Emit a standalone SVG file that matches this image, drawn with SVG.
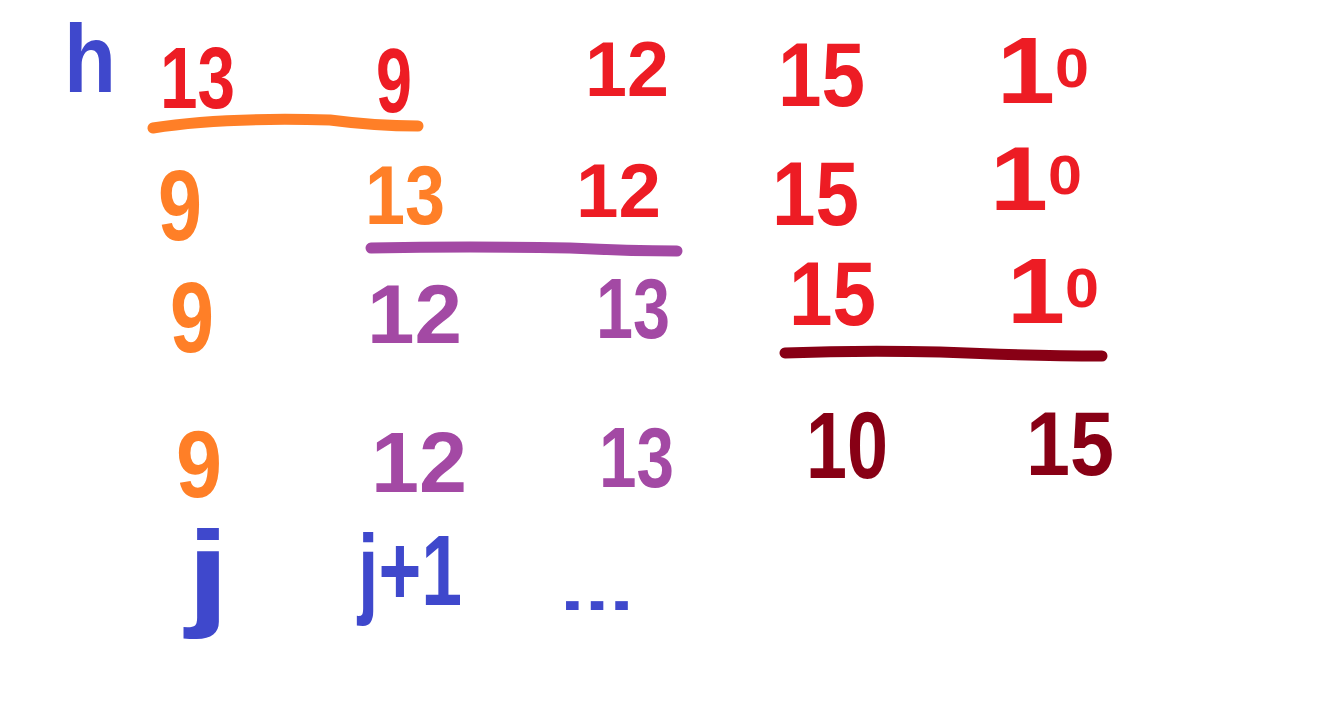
<svg xmlns="http://www.w3.org/2000/svg" width="1341" height="701" viewBox="0 0 1341 701">
<style>
text{font-family:"Liberation Sans","DejaVu Sans",sans-serif;font-weight:bold}
.red{fill:#ED1C24}.org{fill:#FF7F27}.pur{fill:#A349A4}.dr{fill:#880015}.blu{fill:#3F48CC}
.ln{fill:none;stroke-width:11;stroke-linecap:round;stroke-linejoin:round}
</style>
<rect width="1341" height="701" fill="#fff"/>
<text class="blu" x="64" y="92" font-size="96" textLength="52" lengthAdjust="spacingAndGlyphs">h</text>
<!-- row 1 -->
<text class="red" x="160" y="108" font-size="88" textLength="75" lengthAdjust="spacingAndGlyphs">13</text>
<text class="red" x="376" y="112" font-size="90" textLength="36" lengthAdjust="spacingAndGlyphs">9</text>
<text class="red" x="585" y="96" font-size="78" textLength="84" lengthAdjust="spacingAndGlyphs">12</text>
<text class="red" x="778" y="106" font-size="90" textLength="87" lengthAdjust="spacingAndGlyphs">15</text>
<text class="red" x="997" y="103" font-size="94"><tspan textLength="58" lengthAdjust="spacingAndGlyphs">1</tspan><tspan font-size="56" dy="-16" textLength="34" lengthAdjust="spacingAndGlyphs">0</tspan></text>
<path class="ln" d="M153 128 Q220 117 330 120 Q375 126 418 126" stroke="#FF7F27"/>
<!-- row 2 -->
<text class="org" x="158" y="240" font-size="100" textLength="44" lengthAdjust="spacingAndGlyphs">9</text>
<text class="org" x="365" y="224" font-size="84" textLength="80" lengthAdjust="spacingAndGlyphs">13</text>
<text class="red" x="576" y="217" font-size="76" textLength="85" lengthAdjust="spacingAndGlyphs">12</text>
<text class="red" x="772" y="225" font-size="90" textLength="87" lengthAdjust="spacingAndGlyphs">15</text>
<text class="red" x="990" y="210" font-size="90"><tspan textLength="58" lengthAdjust="spacingAndGlyphs">1</tspan><tspan font-size="56" dy="-16" textLength="34" lengthAdjust="spacingAndGlyphs">0</tspan></text>
<path class="ln" d="M371 248 Q470 246 570 248 Q630 251 677 251" stroke="#A349A4"/>
<!-- row 3 -->
<text class="org" x="170" y="352" font-size="100" textLength="44" lengthAdjust="spacingAndGlyphs">9</text>
<text class="pur" x="367" y="343" font-size="84" textLength="95" lengthAdjust="spacingAndGlyphs">12</text>
<text class="pur" x="596" y="338" font-size="86" textLength="74" lengthAdjust="spacingAndGlyphs">13</text>
<text class="red" x="789" y="325" font-size="90" textLength="87" lengthAdjust="spacingAndGlyphs">15</text>
<text class="red" x="1007" y="323" font-size="92"><tspan textLength="58" lengthAdjust="spacingAndGlyphs">1</tspan><tspan font-size="56" dy="-16" textLength="34" lengthAdjust="spacingAndGlyphs">0</tspan></text>
<path class="ln" d="M785 353 Q860 350 940 352 Q1030 356 1102 356" stroke="#880015"/>
<!-- row 4 -->
<text class="org" x="176" y="497" font-size="94" textLength="46" lengthAdjust="spacingAndGlyphs">9</text>
<text class="pur" x="371" y="492" font-size="86" textLength="96" lengthAdjust="spacingAndGlyphs">12</text>
<text class="pur" x="599" y="487" font-size="86" textLength="75" lengthAdjust="spacingAndGlyphs">13</text>
<text class="dr" x="806" y="478" font-size="94" textLength="82" lengthAdjust="spacingAndGlyphs">10</text>
<text class="dr" x="1026" y="475" font-size="90" textLength="88" lengthAdjust="spacingAndGlyphs">15</text>
<!-- row 5 -->
<text class="blu" x="186" y="614" font-size="118" textLength="44" lengthAdjust="spacingAndGlyphs">j</text>
<text class="blu" x="358" y="605" font-size="100" textLength="104" lengthAdjust="spacingAndGlyphs">j+1</text>
<text class="blu" x="560" y="610" font-size="60" textLength="74" lengthAdjust="spacingAndGlyphs">...</text>
</svg>
